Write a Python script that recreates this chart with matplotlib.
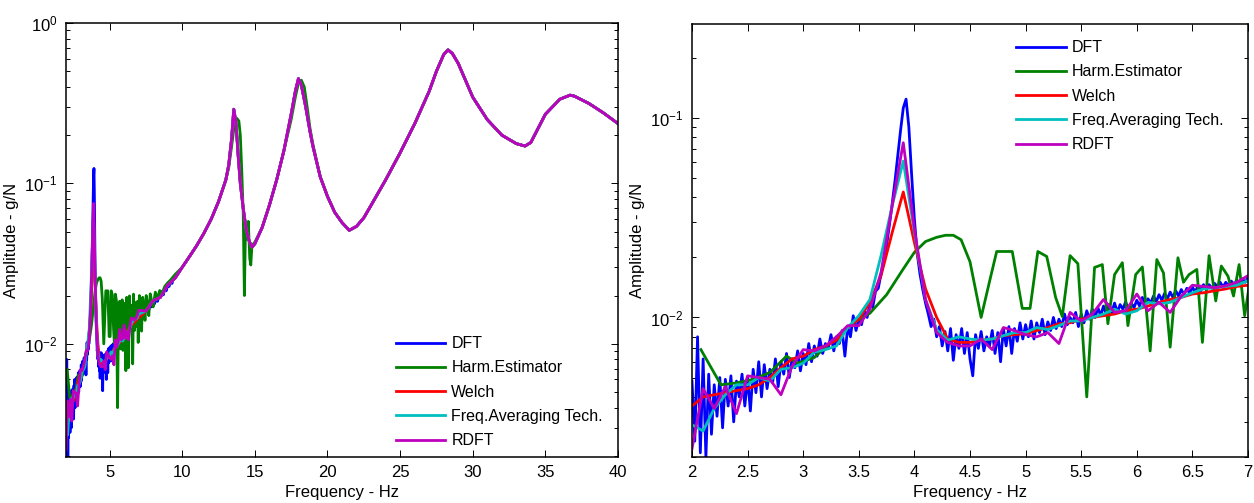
import numpy as np
import matplotlib.pyplot as plt
from matplotlib.ticker import FuncFormatter, LogLocator, NullFormatter

plt.rcParams['font.family'] = ['Liberation Sans', 'DejaVu Sans']
plt.rcParams['mathtext.default'] = 'regular'

# ---------------- data ----------------
# DFT, 2-7 Hz on a 0.025 Hz grid
dft_freq = np.round(np.arange(2.0, 7.0001, 0.025), 3)
dft_amp = [
    0.0048, 0.0024, 0.0080, 0.0021, 0.0062, 0.0020, 0.0052, 0.0026,
    0.0046, 0.0032, 0.0050, 0.0028, 0.0049, 0.0036, 0.0051, 0.0030,
    0.0048, 0.0040, 0.0052, 0.0036, 0.0050, 0.0034, 0.0055, 0.0042,
    0.0060, 0.0040, 0.0058, 0.0044, 0.0055, 0.0047, 0.0062, 0.0045,
    0.0060, 0.0052, 0.0066, 0.0050, 0.0062, 0.0056, 0.0068, 0.0054,
    0.0066, 0.0058, 0.0074, 0.0060, 0.0072, 0.0064, 0.0078, 0.0066,
    0.0074, 0.0070, 0.0082, 0.0068, 0.0080, 0.0074, 0.0086, 0.0064,
    0.0090, 0.0080, 0.0102, 0.0086, 0.0098, 0.0092, 0.0110, 0.0100,
    0.0118, 0.0112, 0.0135, 0.0140, 0.0165, 0.0190, 0.0230, 0.0290,
    0.0370, 0.0480, 0.0640, 0.0860, 0.1120, 0.1240, 0.0900, 0.0520,
    0.0310, 0.0210, 0.0165, 0.0138, 0.0118, 0.0104, 0.0090, 0.0098,
    0.0080, 0.0090, 0.0072, 0.0085, 0.0068, 0.0088, 0.0061, 0.0082,
    0.0070, 0.0088, 0.0066, 0.0084, 0.0062, 0.0051, 0.0082, 0.0070,
    0.0085, 0.0068, 0.0080, 0.0072, 0.0086, 0.0066, 0.0084, 0.0060,
    0.0088, 0.0072, 0.0090, 0.0066, 0.0088, 0.0076, 0.0094, 0.0078,
    0.0092, 0.0080, 0.0096, 0.0078, 0.0094, 0.0084, 0.0098, 0.0082,
    0.0095, 0.0086, 0.0100, 0.0088, 0.0098, 0.0090, 0.0104, 0.0092,
    0.0100, 0.0094, 0.0106, 0.0090, 0.0104, 0.0094, 0.0108, 0.0098,
    0.0110, 0.0100, 0.0112, 0.0102, 0.0114, 0.0104, 0.0116, 0.0106,
    0.0118, 0.0106, 0.0116, 0.0110, 0.0120, 0.0108, 0.0118, 0.0112,
    0.0122, 0.0114, 0.0126, 0.0114, 0.0124, 0.0118, 0.0128, 0.0120,
    0.0130, 0.0122, 0.0132, 0.0124, 0.0134, 0.0126, 0.0136, 0.0128,
    0.0138, 0.0130, 0.0140, 0.0132, 0.0142, 0.0134, 0.0144, 0.0136,
    0.0146, 0.0138, 0.0146, 0.0140, 0.0148, 0.0142, 0.0150, 0.0142,
    0.0150, 0.0144, 0.0152, 0.0146, 0.0154, 0.0146, 0.0156, 0.0150,
    0.0158,
]
# DFT, 7-10 Hz (still a little noisy)
dft_mid_freq = [7.1, 7.2, 7.3, 7.4, 7.5, 7.6, 7.7, 7.8, 7.9, 8.0, 8.1, 8.2, 8.3,
                8.4, 8.5, 8.6, 8.7, 8.8, 8.9, 9.0, 9.1, 9.2, 9.3, 9.4, 9.5, 9.7]
dft_mid_amp = [0.0148, 0.0162, 0.0150, 0.0168, 0.0160, 0.0172, 0.0163, 0.0178,
               0.0170, 0.0186, 0.0178, 0.0195, 0.0184, 0.0200, 0.0195, 0.0212,
               0.0202, 0.0222, 0.0214, 0.0232, 0.0228, 0.0245, 0.0238, 0.0258,
               0.0256, 0.0272]

# smoothed estimators, 2-7 Hz on a 0.1 Hz grid
smooth_freq = np.round(np.arange(2.0, 7.0001, 0.1), 2)
welch_amp = [
    0.0036, 0.0040, 0.0041, 0.0042, 0.0043, 0.0044, 0.0046, 0.0050, 0.0056, 0.0062,
    0.0064, 0.0069, 0.0072, 0.0077, 0.0089, 0.0098, 0.0119, 0.0162, 0.0266, 0.0425,
    0.0237, 0.0139, 0.0100, 0.0078, 0.0075, 0.0075, 0.0077, 0.0078, 0.0081, 0.0082,
    0.0083, 0.0086, 0.0089, 0.0093, 0.0094, 0.0098, 0.0100, 0.0102, 0.0104, 0.0108,
    0.0110, 0.0114, 0.0119, 0.0123, 0.0126, 0.0131, 0.0133, 0.0136, 0.0139, 0.0143,
    0.0145,
]
fat_amp = [
    0.0029, 0.0027, 0.0035, 0.0041, 0.0046, 0.0046, 0.0050, 0.0048, 0.0055, 0.0056,
    0.0059, 0.0067, 0.0069, 0.0072, 0.0089, 0.0102, 0.0123, 0.0204, 0.0362, 0.0607,
    0.0266, 0.0123, 0.0087, 0.0077, 0.0080, 0.0078, 0.0077, 0.0078, 0.0081, 0.0084,
    0.0084, 0.0089, 0.0087, 0.0091, 0.0096, 0.0096, 0.0100, 0.0104, 0.0110, 0.0104,
    0.0108, 0.0119, 0.0117, 0.0119, 0.0126, 0.0133, 0.0139, 0.0141, 0.0143, 0.0145,
    0.0153,
]
rdft_amp = [
    0.0022, 0.0044, 0.0035, 0.0045, 0.0033, 0.0051, 0.0050, 0.0049, 0.0041, 0.0057,
    0.0069, 0.0068, 0.0072, 0.0080, 0.0091, 0.0091, 0.0110, 0.0168, 0.0362, 0.0750,
    0.0277, 0.0123, 0.0084, 0.0075, 0.0072, 0.0072, 0.0078, 0.0069, 0.0089, 0.0086,
    0.0082, 0.0080, 0.0084, 0.0074, 0.0106, 0.0096, 0.0104, 0.0123, 0.0106, 0.0108,
    0.0131, 0.0108, 0.0119, 0.0106, 0.0128, 0.0145, 0.0143, 0.0141, 0.0144, 0.0150,
    0.0162,
]

# harmonic estimator, 2-10 Hz
harm_freq = [2.08, 2.26, 2.4, 2.55, 2.7, 2.85, 2.95, 3.1, 3.3, 3.45, 3.6, 3.75,
             3.9, 4.0, 4.1, 4.2, 4.28, 4.35, 4.42, 4.5, 4.6, 4.68, 4.74, 4.88,
             4.97, 5.04, 5.11, 5.19, 5.27, 5.33, 5.40, 5.47, 5.55, 5.62, 5.69,
             5.74, 5.80, 5.87, 5.92, 5.99, 6.05, 6.12, 6.18, 6.24, 6.30, 6.37,
             6.42, 6.47, 6.54, 6.59, 6.65, 6.71, 6.76, 6.82, 6.87, 6.92, 6.97,
             7.05, 7.12, 7.2, 7.28, 7.36, 7.44, 7.52, 7.6, 7.7, 7.8, 7.9, 8.0,
             8.15, 8.3, 8.45, 8.6, 8.8, 9.0, 9.2, 9.5]
harm_amp = [0.0069, 0.0046, 0.0047, 0.0049, 0.0053, 0.0064, 0.0059, 0.0063,
            0.0080, 0.0094, 0.0105, 0.0130, 0.0175, 0.0212, 0.0240, 0.0252,
            0.0258, 0.0258, 0.0245, 0.0190, 0.0100, 0.0155, 0.0214, 0.0214,
            0.0111, 0.0111, 0.0214, 0.0202, 0.0126, 0.0101, 0.0204, 0.0186,
            0.0040, 0.0178, 0.0184, 0.0093, 0.0164, 0.0188, 0.0091, 0.0164,
            0.0179, 0.0068, 0.0195, 0.0167, 0.0071, 0.0199, 0.0150, 0.0164,
            0.0174, 0.0075, 0.0204, 0.0121, 0.0181, 0.0161, 0.0128, 0.0184,
            0.0102, 0.0200, 0.0185, 0.0120, 0.0195, 0.0170, 0.0140, 0.0200,
            0.0180, 0.0150, 0.0205, 0.0185, 0.0170, 0.0210, 0.0190, 0.0215,
            0.0205, 0.0228, 0.0240, 0.0250, 0.0270]
# harmonic estimator where it departs from the others around the 13.5 and 18 Hz modes
harm_m2_freq = [13.0, 13.2, 13.4, 13.6, 13.75, 13.9, 14.0, 14.1, 14.2, 14.28,
                14.36, 14.45, 14.55, 14.65, 14.72, 14.8, 15.0]
harm_m2_amp = [0.105, 0.125, 0.17, 0.235, 0.255, 0.245, 0.20, 0.12, 0.065, 0.020,
               0.056, 0.045, 0.058, 0.034, 0.031, 0.041, 0.043]
harm_m3_freq = [17.5, 17.8, 18.0, 18.2, 18.4, 18.6, 18.8, 19.0]
harm_m3_amp = [0.25, 0.35, 0.42, 0.44, 0.40, 0.30, 0.22, 0.175]

# 10-40 Hz, where all estimators coincide
tail_freq = [10, 10.5, 11, 11.5, 12, 12.5, 13, 13.2, 13.4, 13.55, 13.7, 13.85,
             14.0, 14.2, 14.4, 14.6, 14.8, 15.0, 15.5, 16, 16.5, 17, 17.5, 17.8,
             18, 18.2, 18.5, 18.8, 19, 19.5, 20, 20.5, 21, 21.5, 22, 22.5,
             23, 24, 25, 26, 27, 27.5, 28, 28.3, 28.6, 29, 29.5, 30,
             31, 32, 33, 33.6, 34, 35, 36, 36.7, 37, 38, 39, 40]
tail_amp = [0.030, 0.035, 0.041, 0.049, 0.060, 0.077, 0.105, 0.13, 0.19, 0.29,
            0.24, 0.15, 0.10, 0.07, 0.052, 0.044, 0.040, 0.042, 0.053, 0.073,
            0.105, 0.16, 0.27, 0.38, 0.45, 0.41, 0.30, 0.21, 0.17, 0.11,
            0.083, 0.066, 0.057, 0.051, 0.054, 0.061, 0.073, 0.105, 0.155, 0.235,
            0.375, 0.50, 0.635, 0.68, 0.645, 0.56, 0.44, 0.345, 0.25, 0.20,
            0.177, 0.171, 0.18, 0.27, 0.335, 0.355, 0.35, 0.315, 0.275, 0.236]

labels = ["DFT", "Harm.Estimator", "Welch", "Freq.Averaging Tech.", "RDFT"]
colors = ["#0000ff", "#008000", "#ff0000", "#00bfbf", "#bf00bf"]

# ---------------- assemble full curves ----------------
tf = np.array(tail_freq)
ta = np.array(tail_amp)

dft_f = np.concatenate([dft_freq, dft_mid_freq, tf])
dft_a = np.concatenate([dft_amp, dft_mid_amp, ta])

keep = ~(((tf > 12.9) & (tf < 15.2)) | ((tf > 17.4) & (tf < 19.1)))
hf = np.concatenate([harm_freq, tf[keep], harm_m2_freq, harm_m3_freq])
ha = np.concatenate([harm_amp, ta[keep], harm_m2_amp, harm_m3_amp])
order = np.argsort(hf)
hf, ha = hf[order], ha[order]

sm_f = np.concatenate([smooth_freq, dft_mid_freq[4::5], tf])
mid = np.array(dft_mid_amp)[4::5]
series = [
    (dft_f, dft_a),
    (hf, ha),
    (sm_f, np.concatenate([welch_amp, mid, ta])),
    (sm_f, np.concatenate([fat_amp, mid, ta])),
    (sm_f, np.concatenate([rdft_amp, mid, ta])),
]

fig = plt.figure(figsize=(12.54, 5.03), dpi=100)
ax1 = fig.add_axes([66 / 1254, 1 - 457 / 503, 552 / 1254, 434 / 503])
ax2 = fig.add_axes([692 / 1254, 1 - 457 / 503, 556 / 1254, 433 / 503])

for ax in (ax1, ax2):
    for (f, a), lab, c in zip(series, labels, colors):
        ax.plot(f, a, color=c, lw=2.0, label=lab)
    ax.set_yscale('log')
    ax.yaxis.set_major_locator(LogLocator(base=10))
    ax.yaxis.set_minor_locator(LogLocator(base=10, subs=np.arange(2, 10)))
    ax.yaxis.set_minor_formatter(NullFormatter())
    ax.tick_params(which='both', direction='in', top=True, right=True,
                   labelsize=12, width=0.7, pad=6)
    ax.tick_params(which='major', length=5)
    ax.tick_params(which='minor', length=3)
    ax.set_xlabel("Frequency - Hz", fontsize=12, labelpad=3)
    ax.set_ylabel("Amplitude - g/N", fontsize=12, labelpad=4)
    for s in ax.spines.values():
        s.set_linewidth(1.1)

legend_kw = dict(frameon=False, fontsize=11.5, handlelength=3.1,
                 handletextpad=0.38, labelspacing=0.58, borderpad=0.0)

ax1.set_xlim(2, 40)
ax1.set_ylim(0.00197, 1)
ax1.set_xticks([5, 10, 15, 20, 25, 30, 35, 40])
ax1.legend(loc='lower left', bbox_to_anchor=(0.583, 0.002), **legend_kw)

ax2.set_xlim(2, 7)
ax2.set_ylim(0.002, 0.295)
ax2.set_xticks([2, 2.5, 3, 3.5, 4, 4.5, 5, 5.5, 6, 6.5, 7])
ax2.xaxis.set_major_formatter(FuncFormatter(lambda v, p: f"{v:g}"))
ax2.legend(loc='upper left', bbox_to_anchor=(0.569, 0.981), **legend_kw)

fig.savefig("out.png", dpi=100)
